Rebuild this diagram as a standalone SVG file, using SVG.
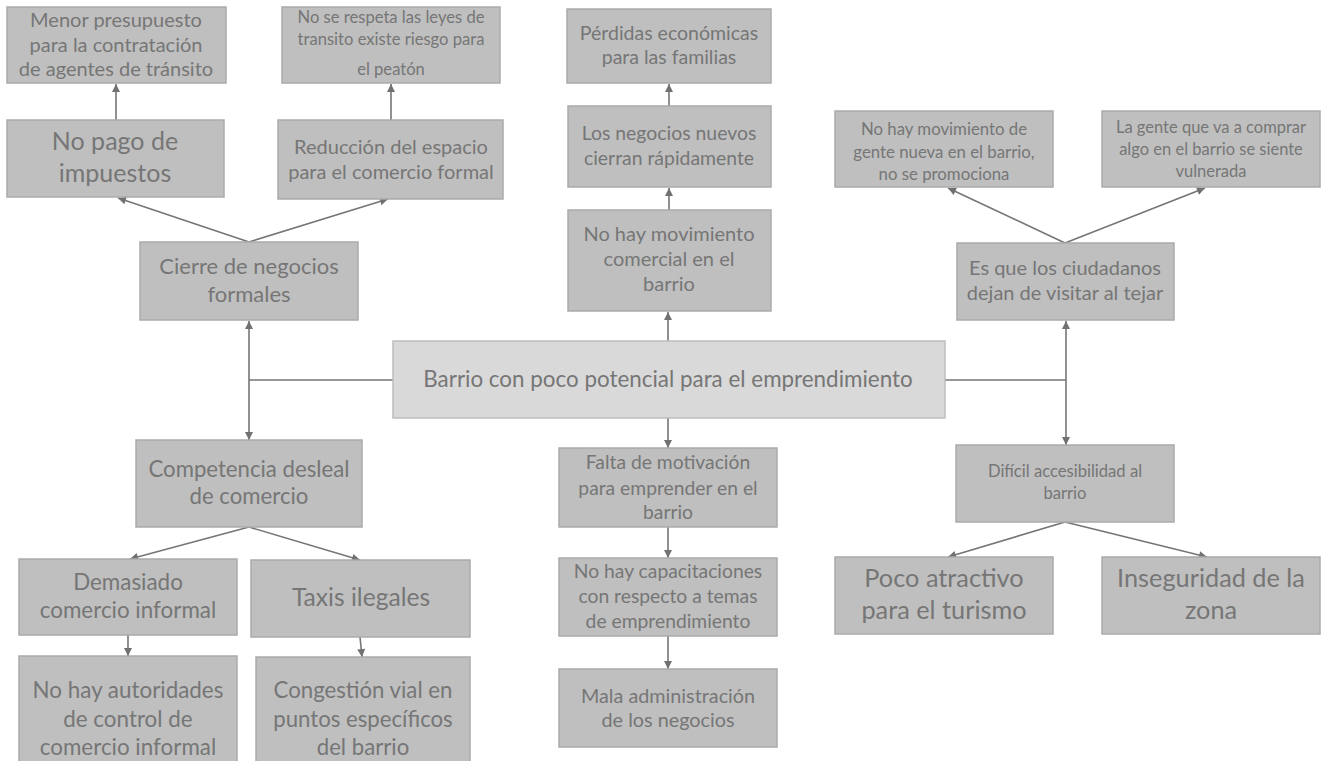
<svg xmlns="http://www.w3.org/2000/svg" width="1327" height="761" viewBox="0 0 1327 761">
<defs>
<marker id="ah" markerWidth="10" markerHeight="10" refX="9" refY="5" orient="auto" markerUnits="userSpaceOnUse">
<path d="M1,1 L9,5 L1,9 Z" fill="#717171"/>
</marker>
<style>
.box{fill:#bfbfbf;stroke:#ababab;stroke-width:1.5}
.main{fill:#d9d9d9;stroke:#bdbdbd;stroke-width:1.5}
text{font-family:Lato,"Liberation Sans",sans-serif;fill:#767676;text-anchor:middle}
.ln{stroke:#757575;stroke-width:1.6;fill:none}
.ar{stroke:#757575;stroke-width:1.6;fill:none;marker-end:url(#ah)}
</style>
</defs>
<rect width="1327" height="761" fill="#ffffff"/>

<g id="connectors">
<line class="ar" x1="116" y1="120" x2="116" y2="84"/>
<line class="ar" x1="391" y1="120" x2="391" y2="84"/>
<line class="ar" x1="249" y1="242" x2="118" y2="198"/>
<line class="ar" x1="249" y1="242" x2="388" y2="199"/>
<line class="ar" x1="249" y1="380" x2="249" y2="321"/>
<line class="ar" x1="249" y1="380" x2="249" y2="440"/>
<line class="ln" x1="249" y1="380" x2="393" y2="380"/>
<line class="ar" x1="249" y1="527" x2="130" y2="559"/>
<line class="ar" x1="249" y1="527" x2="360" y2="560"/>
<line class="ar" x1="128" y1="635" x2="128" y2="656"/>
<line class="ar" x1="360" y1="637" x2="362" y2="657"/>
<line class="ar" x1="669" y1="106" x2="669" y2="84"/>
<line class="ar" x1="669" y1="210" x2="669" y2="188"/>
<line class="ar" x1="668" y1="341" x2="668" y2="312"/>
<line class="ar" x1="668" y1="418" x2="668" y2="448"/>
<line class="ar" x1="668" y1="527" x2="668" y2="558"/>
<line class="ar" x1="668" y1="636" x2="668" y2="669"/>
<line class="ln" x1="945" y1="380" x2="1066" y2="380"/>
<line class="ar" x1="1066" y1="380" x2="1066" y2="321"/>
<line class="ar" x1="1066" y1="380" x2="1066" y2="445"/>
<line class="ar" x1="1065" y1="243" x2="948" y2="188"/>
<line class="ar" x1="1065" y1="243" x2="1205" y2="188"/>
<line class="ar" x1="1065" y1="522" x2="948" y2="557"/>
<line class="ar" x1="1065" y1="522" x2="1207" y2="557"/>
</g>

<g id="n-menor"><rect class="box" x="7" y="7" width="219" height="76"/>
<text font-size="20"><tspan x="116" y="27">Menor presupuesto</tspan><tspan x="116" y="52">para la contratación</tspan><tspan x="116" y="76">de agentes de tránsito</tspan></text></g>

<g id="n-norespeta"><rect class="box" x="282" y="7" width="218" height="76"/>
<text font-size="16.6"><tspan x="391" y="23">No se respeta las leyes de</tspan><tspan x="391" y="45">transito existe riesgo para</tspan><tspan x="391" y="75">el peatón</tspan></text></g>

<g id="n-nopago"><rect class="box" x="7" y="120" width="217" height="77"/>
<text font-size="25"><tspan x="115" y="150">No pago de</tspan><tspan x="115" y="182">impuestos</tspan></text></g>

<g id="n-reduccion"><rect class="box" x="278" y="120" width="225" height="79"/>
<text font-size="20"><tspan x="391" y="154">Reducción del espacio</tspan><tspan x="391" y="179">para el comercio formal</tspan></text></g>

<g id="n-cierre"><rect class="box" x="140" y="242" width="218" height="78"/>
<text font-size="22"><tspan x="249" y="274">Cierre de negocios</tspan><tspan x="249" y="302">formales</tspan></text></g>

<g id="n-perdidas"><rect class="box" x="567" y="9" width="204" height="74"/>
<text font-size="19.5"><tspan x="669" y="40">Pérdidas económicas</tspan><tspan x="669" y="64">para las familias</tspan></text></g>

<g id="n-losnegocios"><rect class="box" x="568" y="106" width="203" height="81"/>
<text font-size="19.4"><tspan x="669" y="140">Los negocios nuevos</tspan><tspan x="669" y="165">cierran rápidamente</tspan></text></g>

<g id="n-nohaymov"><rect class="box" x="568" y="210" width="203" height="101"/>
<text font-size="20"><tspan x="669" y="241">No hay movimiento</tspan><tspan x="669" y="266">comercial en el</tspan><tspan x="669" y="291">barrio</tspan></text></g>

<g id="n-gentenueva"><rect class="box" x="835" y="111" width="218" height="76"/>
<text font-size="16.8"><tspan x="944" y="135">No hay movimiento de</tspan><tspan x="944" y="158">gente nueva en el barrio,</tspan><tspan x="944" y="180">no se promociona</tspan></text></g>

<g id="n-lagente"><rect class="box" x="1102" y="111" width="218" height="76"/>
<text font-size="16.5"><tspan x="1211" y="133">La gente que va a comprar</tspan><tspan x="1211" y="155">algo en el barrio se siente</tspan><tspan x="1211" y="177">vulnerada</tspan></text></g>

<g id="n-esque"><rect class="box" x="957" y="243" width="217" height="77"/>
<text font-size="20"><tspan x="1065" y="275">Es que los ciudadanos</tspan><tspan x="1065" y="300">dejan de visitar al tejar</tspan></text></g>

<g id="n-central"><rect class="main" x="393" y="341" width="552" height="77"/>
<text font-size="22.4"><tspan x="668" y="387">Barrio con poco potencial para el emprendimiento</tspan></text></g>

<g id="n-competencia"><rect class="box" x="136" y="440" width="226" height="87"/>
<text font-size="22.2"><tspan x="249" y="477">Competencia desleal</tspan><tspan x="249" y="504">de comercio</tspan></text></g>

<g id="n-demasiado"><rect class="box" x="19" y="559" width="218" height="76"/>
<text font-size="22.4"><tspan x="128" y="590">Demasiado</tspan><tspan x="128" y="618">comercio informal</tspan></text></g>

<g id="n-taxis"><rect class="box" x="251" y="560" width="219" height="77"/>
<text font-size="24.6"><tspan x="361" y="606">Taxis ilegales</tspan></text></g>

<g id="n-autoridades"><rect class="box" x="19" y="656" width="218" height="110"/>
<text font-size="22.4"><tspan x="128" y="698">No hay autoridades</tspan><tspan x="128" y="727">de control de</tspan><tspan x="128" y="755">comercio informal</tspan></text></g>

<g id="n-congestion"><rect class="box" x="256" y="657" width="214" height="110"/>
<text font-size="22.2"><tspan x="363" y="698">Congestión vial en</tspan><tspan x="363" y="727">puntos específicos</tspan><tspan x="363" y="755">del barrio</tspan></text></g>

<g id="n-falta"><rect class="box" x="559" y="448" width="218" height="79"/>
<text font-size="19.3"><tspan x="668" y="469">Falta de motivación</tspan><tspan x="668" y="495">para emprender en el</tspan><tspan x="668" y="519">barrio</tspan></text></g>

<g id="n-capacitaciones"><rect class="box" x="559" y="558" width="218" height="78"/>
<text font-size="19.3"><tspan x="668" y="578">No hay capacitaciones</tspan><tspan x="668" y="603">con respecto a temas</tspan><tspan x="668" y="628">de emprendimiento</tspan></text></g>

<g id="n-mala"><rect class="box" x="559" y="669" width="218" height="78"/>
<text font-size="19.8"><tspan x="668" y="703">Mala administración</tspan><tspan x="668" y="727">de los negocios</tspan></text></g>

<g id="n-dificil"><rect class="box" x="956" y="445" width="218" height="77"/>
<text font-size="16.6"><tspan x="1065" y="477">Difícil accesibilidad al</tspan><tspan x="1065" y="499">barrio</tspan></text></g>

<g id="n-poco"><rect class="box" x="835" y="557" width="218" height="77"/>
<text font-size="25.3"><tspan x="944" y="587">Poco atractivo</tspan><tspan x="944" y="619">para el turismo</tspan></text></g>

<g id="n-inseguridad"><rect class="box" x="1102" y="557" width="218" height="77"/>
<text font-size="25.3"><tspan x="1211" y="587">Inseguridad de la</tspan><tspan x="1211" y="619">zona</tspan></text></g>
</svg>
